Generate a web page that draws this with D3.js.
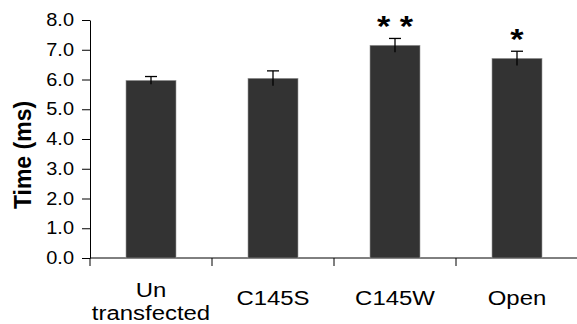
<!DOCTYPE html>
<html><head><meta charset="utf-8">
<script src="https://cdn.jsdelivr.net/npm/d3@7"></script>
<style>body{margin:0;background:#fff}svg{display:block}text{font-family:"Liberation Sans",Arial,sans-serif}</style>
</head><body>
<svg id="c" width="577" height="324"></svg>
<script>
const categories = [["Un","transfected"],["C145S"],["C145W"],["Open"]];
const values = [5.97, 6.04, 7.15, 6.71];
const errors = [0.13, 0.25, 0.23, 0.24];
const stars = ["", "", "* *", "*"];
const yTicks = [0,1,2,3,4,5,6,7,8];

const SX = 1.14; // horizontal stretch of the reference's text
const svg = d3.select("#c");
const x = d3.scaleBand().domain(d3.range(categories.length)).range([90, 578]).paddingInner(0).paddingOuter(0);
const y = d3.scaleLinear().domain([0, 8]).range([258, 20]);
const bw = 50;

// y axis
const ya = svg.append("g").attr("transform", "translate(90,0)")
  .call(d3.axisLeft(y).tickValues(yTicks).tickFormat(d3.format(".1f")).tickSize(8).tickSizeOuter(0));
ya.attr("font-family", null);
ya.select(".domain").attr("stroke", "#000").attr("stroke-width", 1);
ya.selectAll(".tick line").attr("stroke", "#000");
ya.selectAll(".tick text").attr("font-size", 17.5).attr("fill", "#000")
  .attr("x", -16 / SX).attr("transform", `scale(${SX},1)`)
  .style("font-family", '"Liberation Sans",Arial,sans-serif');

// x axis
const xa = svg.append("g").attr("transform", "translate(0,258)");
xa.append("line").attr("x1", 90).attr("x2", 577).attr("stroke", "#000");
xa.selectAll("line.t").data(d3.range(categories.length)).join("line").attr("class","t")
  .attr("x1", d => x(d)).attr("x2", d => x(d)).attr("y1", 0).attr("y2", 8).attr("stroke", "#000");

// bars
svg.selectAll("rect.bar").data(values).join("rect").attr("class","bar")
  .attr("x", (d,i) => x(i) + x.bandwidth()/2 - bw/2)
  .attr("width", bw)
  .attr("y", d => y(d))
  .attr("height", d => y(0) - y(d))
  .attr("fill", "#333333").attr("stroke", "#999").attr("stroke-width", 0.6);

// error bars
const eb = svg.selectAll("g.eb").data(values).join("g").attr("class","eb");
eb.append("line")
  .attr("x1", (d,i) => x(i) + x.bandwidth()/2).attr("x2", (d,i) => x(i) + x.bandwidth()/2)
  .attr("y1", (d,i) => y(d - errors[i])).attr("y2", (d,i) => y(d + errors[i]))
  .attr("stroke", "#000").attr("stroke-width", 1.3);
eb.append("line")
  .attr("x1", (d,i) => x(i) + x.bandwidth()/2 - 6).attr("x2", (d,i) => x(i) + x.bandwidth()/2 + 6)
  .attr("y1", (d,i) => y(d + errors[i])).attr("y2", (d,i) => y(d + errors[i]))
  .attr("stroke", "#000").attr("stroke-width", 1.3);

// stars
svg.selectAll("text.star").data(stars).join("text").attr("class","star")
  .attr("transform", (d,i) => `translate(${x(i) + x.bandwidth()/2},${y(values[i] + errors[i]) - 2}) scale(${SX},1)`)
  .attr("text-anchor", "middle").attr("font-size", 30).attr("font-weight", "bold")
  .text(d => d);

// x labels
const xl = svg.selectAll("text.xl").data(categories).join("text").attr("class","xl")
  .attr("transform", (d,i) => `translate(${x(i) + x.bandwidth()/2},0) scale(${SX},1)`)
  .attr("text-anchor", "middle").attr("font-size", 21).attr("fill", "#000");
xl.each(function(d) {
  const t = d3.select(this);
  if (d.length === 1) {
    t.append("tspan").attr("x", 0).attr("y", 305).text(d[0]);
  } else {
    t.append("tspan").attr("x", 0).attr("y", 297).text(d[0]);
    t.append("tspan").attr("x", 0).attr("y", 320).text(d[1]);
  }
});

// y label
svg.append("text").attr("transform", "translate(31,155) rotate(-90)")
  .attr("text-anchor", "middle").attr("font-size", 23).attr("font-weight", "bold")
  .text("Time (ms)");
</script>
</body></html>
